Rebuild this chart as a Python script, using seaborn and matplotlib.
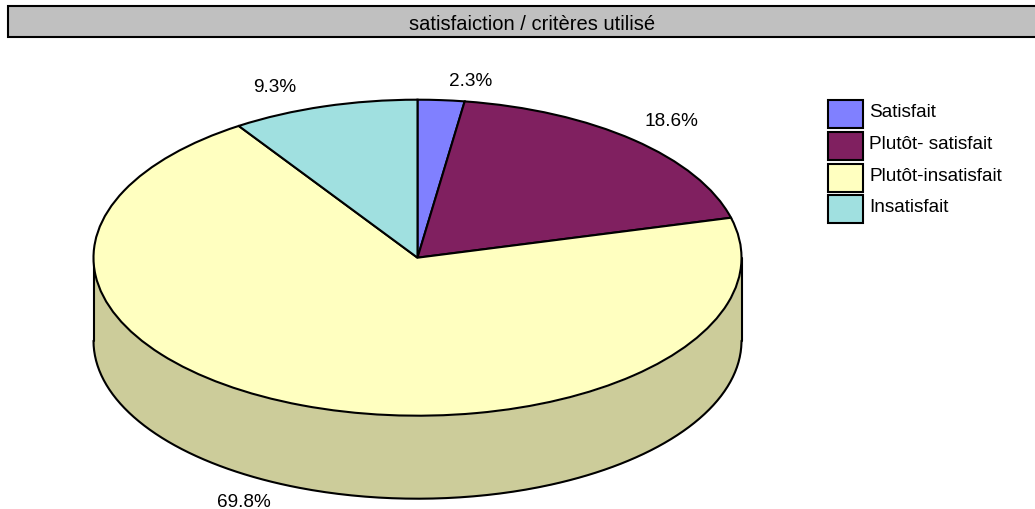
import numpy as np
import matplotlib
matplotlib.use("Agg")
import matplotlib.pyplot as plt
from matplotlib.patches import Rectangle
import seaborn as sns

title = "satisfaiction / critères utilisé"
categories = ["Satisfait", "Plutôt- satisfait", "Plutôt-insatisfait", "Insatisfait"]
counts = [1, 8, 30, 4]
colors = ["#8080FF", "#802060", "#FFFFC0", "#A0E0E0"]
wall_color = "#CCCC9A"
label_px = [(471, 81), (671, 121.5), (244, 503), (275, 88)]

sns.set_theme(style="white")
plt.rcParams["font.family"] = ["Liberation Sans", "DejaVu Sans"]
W, H = 1035, 510
FS = 13.7
FS_TITLE = 14.5
fig = plt.figure(figsize=(W / 100, H / 100), dpi=100, facecolor="white")

def fx(x):
    return x / W

def fy(y):
    return 1 - y / H

# pie ellipse geometry in pixels
cx, cy, rx, ry, depth = 417.5, 258.7, 324, 158, 83
ax = fig.add_axes([fx(cx - rx), fy(cy + ry + depth), 2 * rx / W, (2 * ry + depth) / H])
palette = sns.color_palette(colors)
wedges, _ = ax.pie(counts, colors=palette, startangle=90, counterclock=False,
                   wedgeprops=dict(edgecolor="black", linewidth=1.5, zorder=3))
ax.set_aspect("auto")
ax.set_xlim(-1, 1)
ax.set_ylim(-1 - depth / ry, 1)
for w in wedges:
    w.set_clip_on(False)

# cylinder wall below the front half of the ellipse
t = np.linspace(np.pi, 2 * np.pi, 300)
xs, ys = np.cos(t), np.sin(t)
ax.fill_between(xs, ys, ys - depth / ry, color=wall_color, lw=0, zorder=1, clip_on=False)
ax.plot(xs, ys - depth / ry, color="black", lw=1.5, zorder=2, clip_on=False)
ax.plot([-1, -1], [0, -depth / ry], color="black", lw=1.5, zorder=2, clip_on=False)
ax.plot([1, 1], [0, -depth / ry], color="black", lw=1.5, zorder=2, clip_on=False)

# percentage labels
total = sum(counts)
for v, (px, py) in zip(counts, label_px):
    fig.text(fx(px), fy(py), f"{100 * v / total:.1f}%", ha="center", va="center",
             fontsize=FS, color="black")

# title banner
fig.add_artist(Rectangle((fx(7.5), fy(37.5)), (W + 5 - 7.5) / W, 31 / H,
                         transform=fig.transFigure, facecolor="#C0C0C0",
                         edgecolor="black", linewidth=1.5, clip_on=True))
fig.text(fx(532.5), fy(24.5), title, ha="center", va="center", fontsize=FS_TITLE, color="black")

# legend: shifted up with the swatches moved back down so labels sit above centre
leg = fig.legend(wedges, categories, loc="upper left",
                 bbox_to_anchor=(fx(828), fy(97)), bbox_transform=fig.transFigure,
                 frameon=False, fontsize=FS, borderpad=0, borderaxespad=0, labelcolor="black",
                 handlelength=1.84, handleheight=1.89, labelspacing=0.195, handletextpad=0.32)
for h in leg.legend_handles:
    h.set_edgecolor("black")
    h.set_linewidth(1.5)
    h.set_y(h.get_y() - 2.9)

fig.savefig("out.png", dpi=100, facecolor="white")
